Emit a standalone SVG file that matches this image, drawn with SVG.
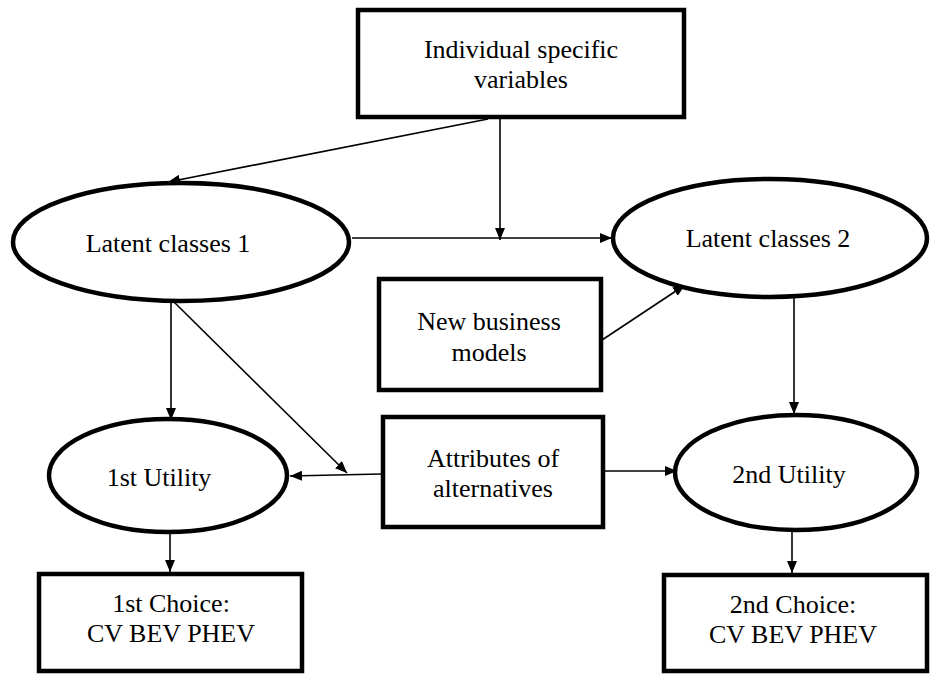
<svg xmlns="http://www.w3.org/2000/svg" width="936" height="674" viewBox="0 0 936 674">
<defs>
<style>
.box{fill:#fff;stroke:#000;stroke-width:4.5}
.ell{fill:#fff;stroke:#000;stroke-width:4.5}
.t{font-family:"Liberation Serif","Times New Roman",serif;font-size:26px;fill:#000;text-anchor:middle}
.c{stroke:#000;stroke-width:1.6;fill:none;marker-end:url(#ah)}
</style>
<marker id="ah" viewBox="0 0 12 10" refX="12" refY="5" markerWidth="12" markerHeight="10" markerUnits="userSpaceOnUse" orient="auto">
<path d="M0,0 L12,5 L0,10 Z" fill="#000"/>
</marker>
</defs>
<rect width="936" height="674" fill="#fff"/>
<g id="connectors">
<line class="c" x1="488" y1="119" x2="168" y2="182"/>
<line class="c" x1="500" y1="119" x2="500" y2="240"/>
<line class="c" x1="352" y1="238" x2="612" y2="238"/>
<line class="c" x1="602" y1="340" x2="685" y2="285"/>
<line class="c" x1="171" y1="301" x2="171" y2="420"/>
<line class="c" x1="173" y1="301" x2="347" y2="473"/>
<line class="c" x1="381" y1="474" x2="290" y2="476"/>
<line class="c" x1="605" y1="471" x2="677" y2="471"/>
<line class="c" x1="794" y1="298" x2="794" y2="414"/>
<line class="c" x1="170" y1="533" x2="170" y2="572"/>
<line class="c" x1="792" y1="531" x2="792" y2="573"/>
</g>
<g id="individual">
<rect class="box" x="358" y="10" width="326" height="107"/>
<text class="t" x="521" y="58">Individual specific</text>
<text class="t" x="521" y="88">variables</text>
</g>
<g id="latent1">
<ellipse class="ell" cx="181" cy="242" rx="168" ry="59"/>
<text class="t" x="168" y="252">Latent classes 1</text>
</g>
<g id="latent2">
<ellipse class="ell" cx="770" cy="238" rx="157" ry="59"/>
<text class="t" x="768" y="247">Latent classes 2</text>
</g>
<g id="business">
<rect class="box" x="379" y="279" width="222" height="111"/>
<text class="t" x="489" y="330">New business</text>
<text class="t" x="489" y="361">models</text>
</g>
<g id="utility1">
<ellipse class="ell" cx="168" cy="475.5" rx="119" ry="56.5"/>
<text class="t" x="159" y="486">1st Utility</text>
</g>
<g id="attributes">
<rect class="box" x="383" y="417" width="220" height="110"/>
<text class="t" x="493" y="467">Attributes of</text>
<text class="t" x="493" y="497">alternatives</text>
</g>
<g id="utility2">
<ellipse class="ell" cx="796" cy="472.5" rx="121" ry="57.5"/>
<text class="t" x="789" y="483">2nd Utility</text>
</g>
<g id="choice1">
<rect class="box" x="39" y="574" width="263" height="97"/>
<text class="t" x="171" y="612">1st Choice:</text>
<text class="t" x="171" y="642">CV BEV PHEV</text>
</g>
<g id="choice2">
<rect class="box" x="664" y="575" width="263" height="96"/>
<text class="t" x="793" y="613">2nd Choice:</text>
<text class="t" x="793" y="643">CV BEV PHEV</text>
</g>
</svg>
